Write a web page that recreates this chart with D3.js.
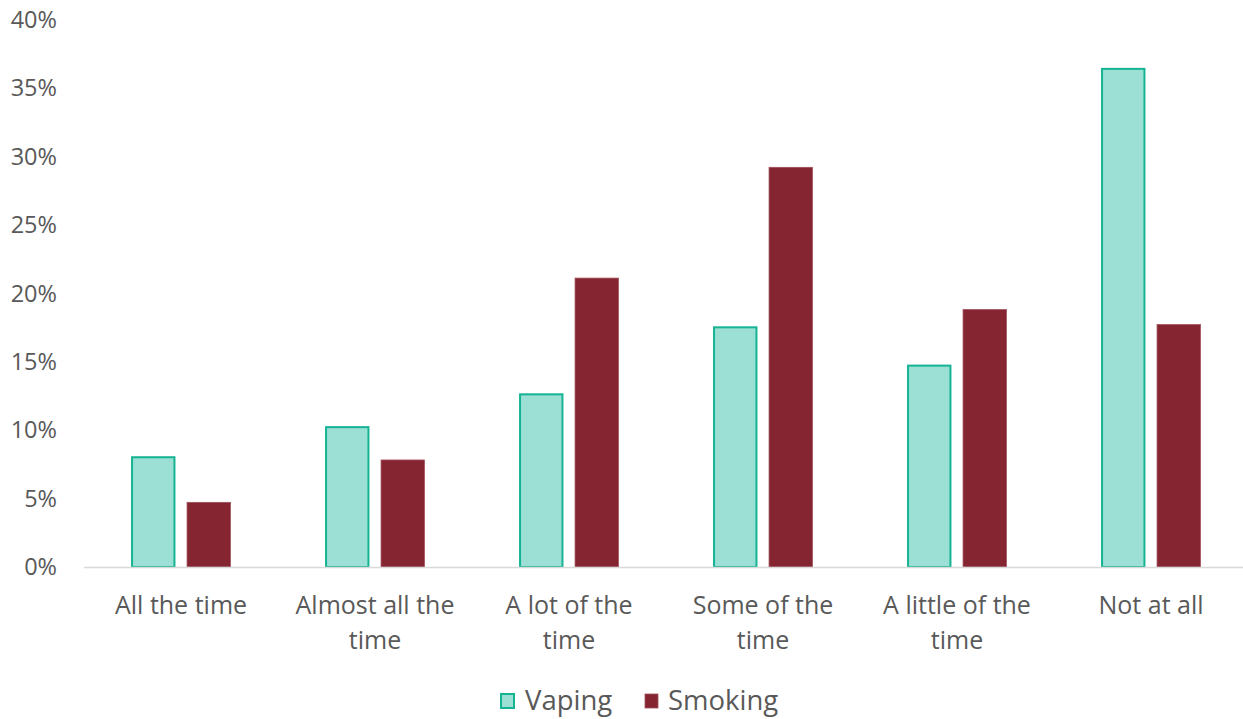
<!DOCTYPE html>
<html><head><meta charset="utf-8">
<script src="https://cdn.jsdelivr.net/npm/d3@7"></script>
<style>body{margin:0;background:#fff}svg{display:block}</style>
</head><body><svg id="c" width="1243" height="719"></svg>
<script>
const categories = [["All the time"],["Almost all the","time"],["A lot of the","time"],["Some of the","time"],["A little of the","time"],["Not at all"]];
const seriesNames = ["Vaping","Smoking"];
const vaping = [8.1, 10.3, 12.7, 17.6, 14.8, 36.5];
const smoking = [4.8, 7.9, 21.2, 29.3, 18.9, 17.8];
const yTicks = [0,5,10,15,20,25,30,35,40];

const svg = d3.select("#c");
const font = "'Open Sans', 'Liberation Sans', sans-serif";
const textCol = "#595959";
const x0 = 84, x1 = 1248, yTop = 20, yBot = 567;
const keys = categories.map((d,i)=>i);
const x = d3.scaleBand().domain(keys).range([x0,x1]).paddingInner(0.485).paddingOuter(0.2425);
const y = d3.scaleLinear().domain([0,40]).range([yBot,yTop]);
const xs = d3.scaleBand().domain(seriesNames).range([0, x.bandwidth()]).paddingInner(0.2);

// y axis labels
const yAxis = d3.axisLeft(y).tickValues(yTicks).tickFormat(d=>d+"%").tickSize(0).tickPadding(0);
const ga = svg.append("g").attr("transform","translate(57,0)").call(yAxis);
ga.select(".domain").remove();
ga.selectAll("text").attr("font-family",font).attr("font-size",23.5).attr("fill",textCol);

const colors = {Vaping:{fill:"#9CDFD4",stroke:"#14B393"}, Smoking:{fill:"#862532",stroke:"#A0505A"}};
const data = [vaping, smoking];
seriesNames.forEach((s,si)=>{
  svg.append("g").selectAll("rect").data(data[si]).join("rect")
    .attr("x",(d,i)=>x(i)+xs(s)+ (si===0?1:0.5))
    .attr("y",d=>y(d)+1)
    .attr("width",xs.bandwidth()-(si===0?2:1))
    .attr("height",d=>yBot-y(d)-1)
    .attr("fill",colors[s].fill)
    .attr("stroke",colors[s].stroke)
    .attr("stroke-width",si===0?2:0.8);
});

// baseline
svg.append("line").attr("x1",x0).attr("x2",x1).attr("y1",yBot+0.5).attr("y2",yBot+0.5)
  .attr("stroke","#D9D9D9").attr("stroke-width",1.5);

// category labels
const xAxis = d3.axisBottom(x).tickSize(0).tickFormat("");
const gx = svg.append("g").attr("transform",`translate(0,${yBot})`).call(xAxis);
gx.select(".domain").remove();
gx.selectAll(".tick").each(function(d){
  const t = d3.select(this).append("text").attr("text-anchor","middle")
    .attr("font-family",font).attr("font-size",25).attr("fill",textCol);
  categories[d].forEach((line,li)=>{
    t.append("tspan").attr("x",0).attr("y",47+li*35).text(line);
  });
});

// legend
const leg = [{name:"Vaping",x:501,tx:525},{name:"Smoking",x:645,tx:668}];
leg.forEach(l=>{
  svg.append("rect").attr("x",l.x).attr("y",694).attr("width",13).attr("height",14)
    .attr("fill",colors[l.name].fill).attr("stroke",colors[l.name].stroke).attr("stroke-width",l.name==="Vaping"?2:0.8);
  svg.append("text").attr("x",l.tx).attr("y",710).attr("font-family",font).attr("font-size",27.5)
    .attr("fill",textCol).text(l.name);
});
</script></body></html>
